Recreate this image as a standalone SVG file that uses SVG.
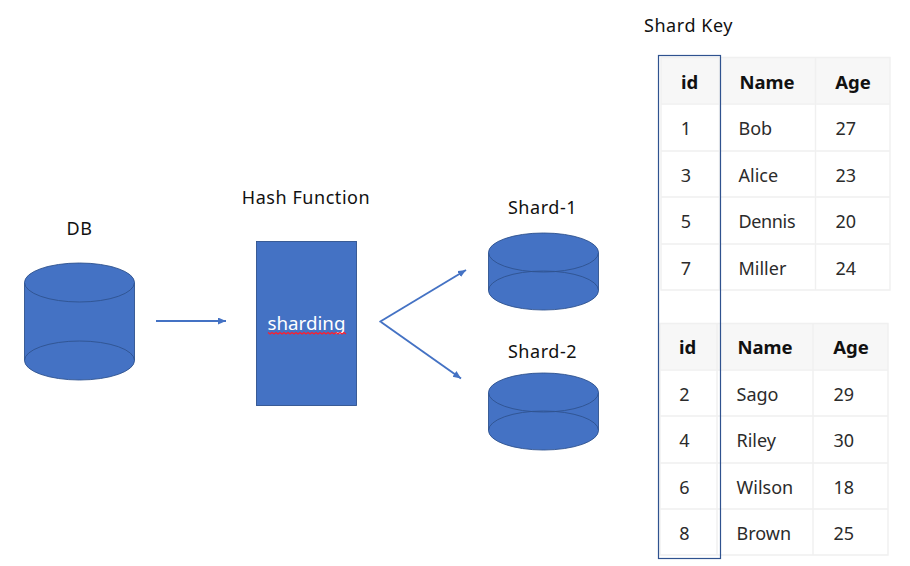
<svg xmlns="http://www.w3.org/2000/svg" width="910" height="566" viewBox="0 0 910 566">
<style>
text{font-family:"Noto Sans","Liberation Sans",sans-serif;fill:#111}
.lbl{font-size:18px;letter-spacing:.55px}
.s{fill:#4472c4;stroke:#2f528f;stroke-width:.9}
.c{fill:none;stroke:#4472c4;stroke-width:1.9}
.h{fill:#f7f7f7}
.grid{fill:none;stroke:#f0f0f0;stroke-width:1.4}
.th{font-size:18.5px;font-weight:700}
.td{font-size:18px;fill:#2b2b2b}
.m{text-anchor:middle}
</style>
<defs>
<marker id="a" markerUnits="userSpaceOnUse" markerWidth="9" markerHeight="8" refX="8" refY="3.5" orient="auto"><path d="M0 0L8 3.5L0 7Z" fill="#4472c4"/></marker>
</defs>
<rect width="910" height="566" fill="#fff"/>
<g id="connectors">
<path class="c" d="M156 321H226" marker-end="url(#a)"/>
<path class="c" d="M379.500 322L466 270" marker-end="url(#a)"/>
<path class="c" d="M381 322L461 378.500" marker-end="url(#a)"/>
</g>
<g id="db">
<text class="lbl m" x="79.500" y="235">DB</text>
<path class="s" d="M24.500 282.500A55 19.500 0 0 1 134.500 282.500V360.500A55 19.500 0 0 1 24.500 360.500Z"/>
<path class="s" d="M24.500 282.500A55 19.500 0 0 0 134.500 282.500"/>
<path class="s" style="fill:none" d="M24.500 360.500A55 19.500 0 0 1 134.500 360.500"/>
</g>
<g id="hash">
<text class="lbl m" x="306" y="204">Hash Function</text>
<rect class="s" x="256.500" y="241.500" width="100" height="164"/>
<text class="m" x="306.500" y="330" style="font-size:18.800px;fill:#fff">sharding</text>
<path d="M268 332.500l2 1.500 2-1.500 2 1.500 2-1.500 2 1.500 2-1.500 2 1.500 2-1.500 2 1.500 2-1.500 2 1.500 2-1.500 2 1.500 2-1.500 2 1.500 2-1.500 2 1.500 2-1.500 2 1.500 2-1.500 2 1.500 2-1.500 2 1.500 2-1.500 2 1.500 2-1.500 2 1.500 2-1.500 2 1.500 2-1.500 2 1.500 2-1.500 2 1.500 2-1.500 2 1.500 2-1.500 2 1.500 2-1.500 2 1.500" fill="none" stroke="#ff1f2d" stroke-width="1.300"/>
</g>
<g id="shard1">
<text class="lbl m" x="542.500" y="214">Shard-1</text>
<path class="s" d="M488.500 252.500A55 19.500 0 0 1 598.500 252.500V290.500A55 19.500 0 0 1 488.500 290.500Z"/>
<path class="s" d="M488.500 252.500A55 19.500 0 0 0 598.500 252.500"/>
<path class="s" style="fill:none" d="M488.500 290.500A55 19.500 0 0 1 598.500 290.500"/>
</g>
<g id="shard2">
<text class="lbl m" x="542.500" y="358">Shard-2</text>
<path class="s" d="M488.500 392.500A55 19.500 0 0 1 598.500 392.500V430.500A55 19.500 0 0 1 488.500 430.500Z"/>
<path class="s" d="M488.500 392.500A55 19.500 0 0 0 598.500 392.500"/>
<path class="s" style="fill:none" d="M488.500 430.500A55 19.500 0 0 1 598.500 430.500"/>
</g>
<g id="table1">
<rect class="h" x="661" y="57" width="229" height="46"/>
<path class="grid" d="M661 57.500H890V290H661ZM661 104H890M661 151H890M661 197H890M661 244H890M719.500 57V290M815.500 57V290"/>
<text class="th m" x="689.500" y="89">id</text><text class="th m" x="767" y="89">Name</text><text class="th m" x="853" y="89">Age</text>
<text class="td m" x="686" y="135">1</text><text class="td" x="738.500" y="135">Bob</text><text class="td" x="835.500" y="135">27</text>
<text class="td m" x="686" y="182">3</text><text class="td" x="738.500" y="182">Alice</text><text class="td" x="835.500" y="182">23</text>
<text class="td m" x="686" y="228">5</text><text class="td" x="738.500" y="228" textLength="57">Dennis</text><text class="td" x="835.500" y="228">20</text>
<text class="td m" x="686" y="275">7</text><text class="td" x="738.500" y="275">Miller</text><text class="td" x="835.500" y="275">24</text>
</g>
<g id="table2">
<rect class="h" x="660" y="323" width="228" height="46"/>
<path class="grid" d="M660 323.500H888V555H660ZM660 370H888M660 416H888M660 463H888M660 509H888M717 323V555M813 323V555"/>
<text class="th m" x="687.500" y="354">id</text><text class="th m" x="765" y="354">Name</text><text class="th m" x="851" y="354">Age</text>
<text class="td m" x="684.500" y="401">2</text><text class="td" x="736.500" y="401">Sago</text><text class="td" x="833.500" y="401">29</text>
<text class="td m" x="684.500" y="447">4</text><text class="td" x="736.500" y="447">Riley</text><text class="td" x="833.500" y="447">30</text>
<text class="td m" x="684.500" y="494">6</text><text class="td" x="736.500" y="494">Wilson</text><text class="td" x="833.500" y="494">18</text>
<text class="td m" x="684.500" y="540">8</text><text class="td" x="736.500" y="540">Brown</text><text class="td" x="833.500" y="540">25</text>
</g>
<g id="shard-key">
<text class="lbl" x="644" y="32">Shard Key</text>
<rect x="658.500" y="55.500" width="62" height="503" fill="none" stroke="#2f528f" stroke-width="1.200"/>
</g>
</svg>
